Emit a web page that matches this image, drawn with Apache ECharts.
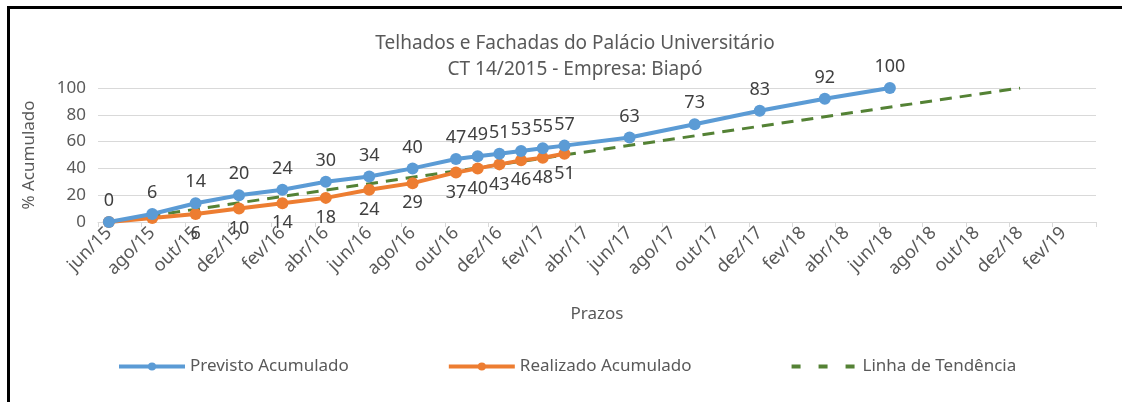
<!DOCTYPE html>
<html>
<head>
<meta charset="utf-8">
<script src="https://cdn.jsdelivr.net/npm/echarts@6/dist/echarts.min.js"></script>
<style>
  html, body { margin: 0; padding: 0; background: #fff; }
  #wrap { position: relative; width: 1122px; height: 402px; overflow: hidden; }
  #chart { position: absolute; left: 0; top: 0; width: 1122px; height: 402px; }
  #frame { position: absolute; left: 7px; top: 6px; width: 1200px; height: 500px;
           border-top: 3px solid #000; border-left: 3px solid #000; pointer-events: none; }
</style>
</head>
<body>
<div id="wrap">
  <div id="chart"></div>
  <div id="frame"></div>
</div>
<script>
// meses do eixo (mensal, rótulo a cada 2)
const meses = [
  'jun/15', 'jul/15', 'ago/15', 'set/15', 'out/15', 'nov/15', 'dez/15',
  'jan/16', 'fev/16', 'mar/16', 'abr/16', 'mai/16', 'jun/16', 'jul/16', 'ago/16', 'set/16', 'out/16', 'nov/16', 'dez/16',
  'jan/17', 'fev/17', 'mar/17', 'abr/17', 'mai/17', 'jun/17', 'jul/17', 'ago/17', 'set/17', 'out/17', 'nov/17', 'dez/17',
  'jan/18', 'fev/18', 'mar/18', 'abr/18', 'mai/18', 'jun/18', 'jul/18', 'ago/18', 'set/18', 'out/18', 'nov/18', 'dez/18',
  'jan/19', 'fev/19', 'mar/19'
]

const previstoDatas = ['jun/15', 'ago/15', 'out/15', 'dez/15', 'fev/16', 'abr/16', 'jun/16', 'ago/16', 'out/16', 'nov/16',
  'dez/16', 'jan/17', 'fev/17', 'mar/17', 'jun/17', 'set/17', 'dez/17', 'mar/18', 'jun/18']
const previstoValores = [0, 6, 14, 20, 24, 30, 34, 40, 47, 49, 51, 53, 55, 57, 63, 73, 83, 92, 100]

const realizadoDatas = ['jun/15', 'ago/15', 'out/15', 'dez/15', 'fev/16', 'abr/16', 'jun/16', 'ago/16', 'out/16', 'nov/16',
  'dez/16', 'jan/17', 'fev/17', 'mar/17']
const realizadoValores = [0, 3, 6, 10, 14, 18, 24, 29, 37, 40, 43, 46, 48, 51]

const tendenciaDatas = ['jun/15', 'dez/18']
const tendenciaValores = [0, 100]

const fonte = '"Noto Sans", "Open Sans", sans-serif'
const cinza = '#595959'

const chart = echarts.init(document.getElementById('chart'))

const option = {
  animation: false,
  textStyle: { fontFamily: fonte },
  title: {
    text: 'Telhados e Fachadas do Palácio Universitário\nCT 14/2015 - Empresa: Biapó',
    left: 570,
    top: 26,
    textAlign: 'center',
    textStyle: { fontSize: 19, fontWeight: 'normal', color: cinza, lineHeight: 26, fontFamily: fonte }
  },
  grid: { left: 98, right: 26, top: 88, bottom: 180 },
  legend: {
    bottom: 22,
    left: 112,
    itemGap: 98,
    itemWidth: 66,
    itemHeight: 10,
    lineStyle: { width: 4 },
    textStyle: { fontSize: 17, color: cinza, fontFamily: fonte },
    data: [
      'Previsto Acumulado',
      'Realizado Acumulado',
      { name: 'Linha de Tendência', itemStyle: { opacity: 0 }, lineStyle: { type: [9, 18] } }
    ]
  },
  xAxis: {
    type: 'category',
    data: meses,
    boundaryGap: true,
    name: 'Prazos',
    nameLocation: 'middle',
    nameGap: 84,
    nameTextStyle: { fontSize: 17, color: cinza },
    axisLine: { lineStyle: { color: '#d9d9d9', width: 1 } },
    axisTick: { show: true, interval: 1, length: 5, lineStyle: { color: '#d9d9d9' } },
    axisLabel: { interval: 1, rotate: 45, fontSize: 18, color: cinza, margin: 8 },
    splitLine: { show: false }
  },
  yAxis: {
    type: 'value',
    min: 0,
    max: 100,
    interval: 20,
    name: '% Acumulado',
    nameLocation: 'middle',
    nameGap: 60,
    nameTextStyle: { fontSize: 17, color: cinza },
    axisLine: { show: false },
    axisTick: { show: false },
    axisLabel: { fontSize: 17, color: cinza, margin: 12 },
    splitLine: { lineStyle: { color: '#d9d9d9', width: 1 } }
  },
  series: [
    {
      name: 'Linha de Tendência',
      type: 'line',
      data: tendenciaDatas.map((d, i) => [d, tendenciaValores[i]]),
      symbol: 'none',
      z: 1,
      lineStyle: { color: '#548235', width: 3, type: [12, 8] },
      itemStyle: { color: '#548235' }
    },
    {
      name: 'Realizado Acumulado',
      type: 'line',
      data: realizadoDatas.map((d, i) => ({
        value: [d, realizadoValores[i]],
        label: { show: i > 1 }
      })),
      symbol: 'circle',
      symbolSize: 12,
      z: 2,
      lineStyle: { color: '#ed7d31', width: 4 },
      itemStyle: { color: '#ed7d31' },
      label: { show: true, position: 'bottom', distance: 5, fontSize: 18, color: '#404040' }
    },
    {
      name: 'Previsto Acumulado',
      type: 'line',
      data: previstoDatas.map((d, i) => [d, previstoValores[i]]),
      symbol: 'circle',
      symbolSize: 12,
      z: 3,
      lineStyle: { color: '#5b9bd5', width: 4 },
      itemStyle: { color: '#5b9bd5' },
      label: { show: true, position: 'top', distance: 6, fontSize: 18, color: '#404040' }
    }
  ]
}

option && chart.setOption(option)
</script>
</body>
</html>
